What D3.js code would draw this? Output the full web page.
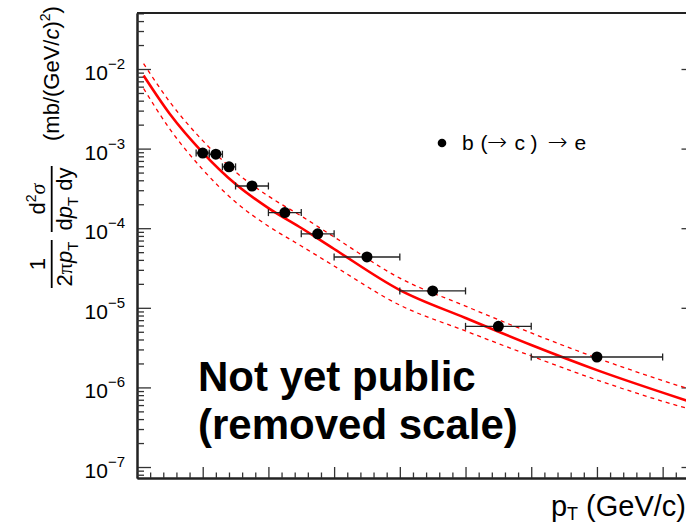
<!DOCTYPE html>
<html>
<head>
<meta charset="utf-8">
<script src="https://cdn.jsdelivr.net/npm/d3@7"></script>
<style>
  body { margin: 0; background: #fff; }
  text { font-family: "Liberation Sans", Arial, Helvetica, sans-serif; fill: #000; }
</style>
</head>
<body>
<script>
var width = 686, height = 525;
var frame = {left: 137, top: 13, bottom: 478, right: 695.5};

// b (-> c) -> e measured points (pT in GeV/c, cross section in mb/(GeV/c)^2)
var ptCenter = [1.0, 1.2, 1.4, 1.75, 2.25, 2.75, 3.5, 4.5, 5.5, 7.0];
var ptLow    = [0.9, 1.1, 1.3, 1.5, 2.0, 2.5, 3.0, 4.0, 5.0, 6.0];
var ptHigh   = [1.1, 1.3, 1.5, 2.0, 2.5, 3.0, 4.0, 5.0, 6.0, 8.0];
var xsec     = [8.8e-4, 8.5e-4, 5.9e-4, 3.39e-4, 1.57e-4, 8.5e-5, 4.35e-5, 1.63e-5, 5.85e-6, 2.41e-6];

// theory curve + band
var fitPt      = [0.1, 0.5, 1, 1.5, 2, 2.5, 3, 4, 5, 6, 7, 8, 8.5];
var fitCentral = [8.28e-3, 2.72e-3, 8.93e-4, 3.59e-4, 1.79e-4, 1.006e-4, 5.48e-5, 1.67e-5, 7.45e-6, 3.41e-6, 1.65e-6, 8.6e-7, 6.3e-7];
var fitUpper   = [1.17e-2, 3.85e-3, 1.26e-3, 5.08e-4, 2.53e-4, 1.42e-4, 7.75e-5, 2.36e-5, 1.05e-5, 4.83e-6, 2.34e-6, 1.22e-6, 9.0e-7];
var fitLower   = [5.69e-3, 1.76e-3, 5.46e-4, 2.13e-4, 1.06e-4, 5.98e-5, 3.35e-5, 1.08e-5, 5.12e-6, 2.48e-6, 1.24e-6, 6.7e-7, 5.1e-7];

var yDecades = [-7, -6, -5, -4, -3, -2];
var xMajor = [1, 2, 3, 4, 5, 6, 7, 8];

var svg = d3.select("body").append("svg")
    .attr("width", width)
    .attr("height", height);

var x = d3.scaleLinear().domain([0, 8.5]).range([frame.left, frame.right]);
var y = d3.scaleLog().domain([Math.pow(10, -7.138), Math.pow(10, -1.2965)]).range([frame.bottom, frame.top]);

// minor ticks
var yMinor = [];
for (var e = -8; e <= -2; e++) {
  for (var m = 2; m <= 9; m++) {
    var v = m * Math.pow(10, e);
    if (v >= y.domain()[0] && v <= y.domain()[1]) yMinor.push(v);
  }
}
var xMinor = d3.range(0.2, 8.5, 0.2).filter(function(d) { return Math.abs(d - Math.round(d)) > 0.01; });

function styleAxis(g) {
  g.select(".domain").attr("stroke", "#222").attr("stroke-width", 2);
  g.selectAll(".tick line").attr("stroke", "#333").attr("stroke-width", 1.3);
}

// left axis (ticks pointing inward)
svg.append("g").attr("transform", "translate(" + frame.left + ",0)")
    .call(d3.axisRight(y).tickValues(yDecades.map(function(d) { return Math.pow(10, d); }))
      .tickSize(14).tickSizeOuter(0).tickFormat(""))
    .call(styleAxis);
svg.append("g").attr("transform", "translate(" + frame.left + ",0)")
    .call(d3.axisRight(y).tickValues(yMinor).tickSize(7).tickSizeOuter(0).tickFormat(""))
    .call(styleAxis);

// right axis
svg.append("g").attr("transform", "translate(" + frame.right + ",0)")
    .call(d3.axisLeft(y).tickValues(yDecades.map(function(d) { return Math.pow(10, d); }))
      .tickSize(14).tickSizeOuter(0).tickFormat(""))
    .call(styleAxis);
svg.append("g").attr("transform", "translate(" + frame.right + ",0)")
    .call(d3.axisLeft(y).tickValues(yMinor).tickSize(7).tickSizeOuter(0).tickFormat(""))
    .call(styleAxis);

// bottom axis, scale removed (no labels)
svg.append("g").attr("transform", "translate(0," + frame.bottom + ")")
    .call(d3.axisTop(x).tickValues(xMajor).tickSize(11).tickSizeOuter(0).tickFormat(""))
    .call(styleAxis);
svg.append("g").attr("transform", "translate(0," + frame.bottom + ")")
    .call(d3.axisTop(x).tickValues(xMinor).tickSize(5.5).tickSizeOuter(0).tickFormat(""))
    .call(styleAxis);

// top frame line
svg.append("line")
    .attr("x1", frame.left).attr("x2", frame.right)
    .attr("y1", frame.top).attr("y2", frame.top)
    .attr("stroke", "#222").attr("stroke-width", 2);

// y tick labels 10^n
var ylab = svg.append("g").selectAll("text").data(yDecades).enter().append("text")
    .attr("x", 125)
    .attr("y", function(d) { return y(Math.pow(10, d)) + 11; })
    .attr("text-anchor", "end")
    .style("font-size", "21px");
ylab.append("tspan").text("10");
ylab.append("tspan").attr("dy", -11).style("font-size", "15px")
    .text(function(d) { return "\u2212" + Math.abs(d); });

// theory curves
function curveLine(vals) {
  return d3.line()
      .x(function(d, i) { return x(fitPt[i]); })
      .y(function(d) { return y(d); })
      .curve(d3.curveMonotoneX)(vals);
}
svg.append("path").attr("d", curveLine(fitUpper))
    .attr("fill", "none").attr("stroke", "#ff0000").attr("stroke-width", 1.3)
    .attr("stroke-dasharray", "4,4");
svg.append("path").attr("d", curveLine(fitLower))
    .attr("fill", "none").attr("stroke", "#ff0000").attr("stroke-width", 1.3)
    .attr("stroke-dasharray", "4,4");
svg.append("path").attr("d", curveLine(fitCentral))
    .attr("fill", "none").attr("stroke", "#ff0000").attr("stroke-width", 2.6);

// data points with horizontal error bars
var pts = svg.append("g").selectAll("g").data(xsec).enter().append("g");
pts.append("line")
    .attr("x1", function(d, i) { return x(ptLow[i]); })
    .attr("x2", function(d, i) { return x(ptHigh[i]); })
    .attr("y1", function(d) { return y(d); })
    .attr("y2", function(d) { return y(d); })
    .attr("stroke", "#222").attr("stroke-width", 1.3);
pts.append("line")
    .attr("x1", function(d, i) { return x(ptLow[i]); })
    .attr("x2", function(d, i) { return x(ptLow[i]); })
    .attr("y1", function(d) { return y(d) - 3.5; })
    .attr("y2", function(d) { return y(d) + 3.5; })
    .attr("stroke", "#222").attr("stroke-width", 1.3);
pts.append("line")
    .attr("x1", function(d, i) { return x(ptHigh[i]); })
    .attr("x2", function(d, i) { return x(ptHigh[i]); })
    .attr("y1", function(d) { return y(d) - 3.5; })
    .attr("y2", function(d) { return y(d) + 3.5; })
    .attr("stroke", "#222").attr("stroke-width", 1.3);
pts.append("circle")
    .attr("cx", function(d, i) { return x(ptCenter[i]); })
    .attr("cy", function(d) { return y(d); })
    .attr("r", 5.5)
    .attr("fill", "#000");

// legend
svg.append("circle").attr("cx", 442).attr("cy", 143).attr("r", 4.3).attr("fill", "#000");
var leg = svg.append("text").attr("y", 150).style("font-size", "21px");
var legParts = [
  {t: "b", x: 462}, {t: "(", x: 480.5}, {t: "\u2192", x: 487, arrow: true},
  {t: "c", x: 514.5}, {t: ")", x: 530.5}, {t: "\u2192", x: 547.5, arrow: true}, {t: "e", x: 574.5}
];
legParts.forEach(function(p) {
  var s = leg.append("tspan").attr("x", p.x).text(p.t);
  if (p.arrow) s.style("font-family", "'DejaVu Sans', sans-serif").style("font-size", "24px").style("font-weight", "200");
});

// watermark text
svg.append("text").attr("x", 198).attr("y", 391)
    .style("font-size", "42px").style("font-weight", "bold")
    .text("Not yet public");
svg.append("text").attr("x", 198).attr("y", 439)
    .style("font-size", "42px").style("font-weight", "bold")
    .text("(removed scale)");

// x title
var xt = svg.append("text").attr("x", 686).attr("y", 516)
    .attr("text-anchor", "end").style("font-size", "29px");
xt.append("tspan").text("p");
xt.append("tspan").attr("dy", 4).style("font-size", "18px").text("T");
xt.append("tspan").attr("dy", -4).text(" (GeV/c)");

// y title, rotated
var yt = svg.append("g").attr("transform", "rotate(-90)");
var fs = "22px";
// 1 / (2 pi pT)
yt.append("line").attr("x1", -288).attr("x2", -240).attr("y1", 51.7).attr("y2", 51.7)
    .attr("stroke", "#000").attr("stroke-width", 1.8);
yt.append("text").attr("x", -264).attr("y", 45).attr("text-anchor", "middle")
    .style("font-size", fs).text("1");
var den1 = yt.append("text").attr("x", -264).attr("y", 72).attr("text-anchor", "middle")
    .style("font-size", fs);
den1.append("tspan").text("2");
den1.append("tspan").style("font-family", "'Liberation Serif', serif").text("\u03c0");
den1.append("tspan").style("font-style", "italic").text("p");
den1.append("tspan").attr("dy", 6).style("font-size", "15px").text("T");
// d2 sigma / dpT dy
yt.append("line").attr("x1", -232).attr("x2", -166).attr("y1", 51.7).attr("y2", 51.7)
    .attr("stroke", "#000").attr("stroke-width", 1.8);
var num2 = yt.append("text").attr("x", -199).attr("y", 45).attr("text-anchor", "middle")
    .style("font-size", fs);
num2.append("tspan").text("d");
num2.append("tspan").attr("dy", -9).style("font-size", "14px").text("2");
num2.append("tspan").attr("dy", 9).style("font-family", "'Liberation Serif', serif")
    .style("font-style", "italic").text("\u03c3");
var den2 = yt.append("text").attr("x", -199).attr("y", 72).attr("text-anchor", "middle")
    .style("font-size", fs);
den2.append("tspan").text("d");
den2.append("tspan").style("font-style", "italic").text("p");
den2.append("tspan").attr("dy", 6).style("font-size", "15px").text("T");
den2.append("tspan").attr("dy", -6).text(" dy");
// units
var unit = yt.append("text").attr("x", -141).attr("y", 59).style("font-size", fs);
unit.append("tspan").text("(mb/(GeV/");
unit.append("tspan").style("font-style", "italic").text("c");
unit.append("tspan").text(")");
unit.append("tspan").attr("dy", -9).style("font-size", "14px").text("2");
unit.append("tspan").attr("dy", 9).text(")");
</script>
</body>
</html>
